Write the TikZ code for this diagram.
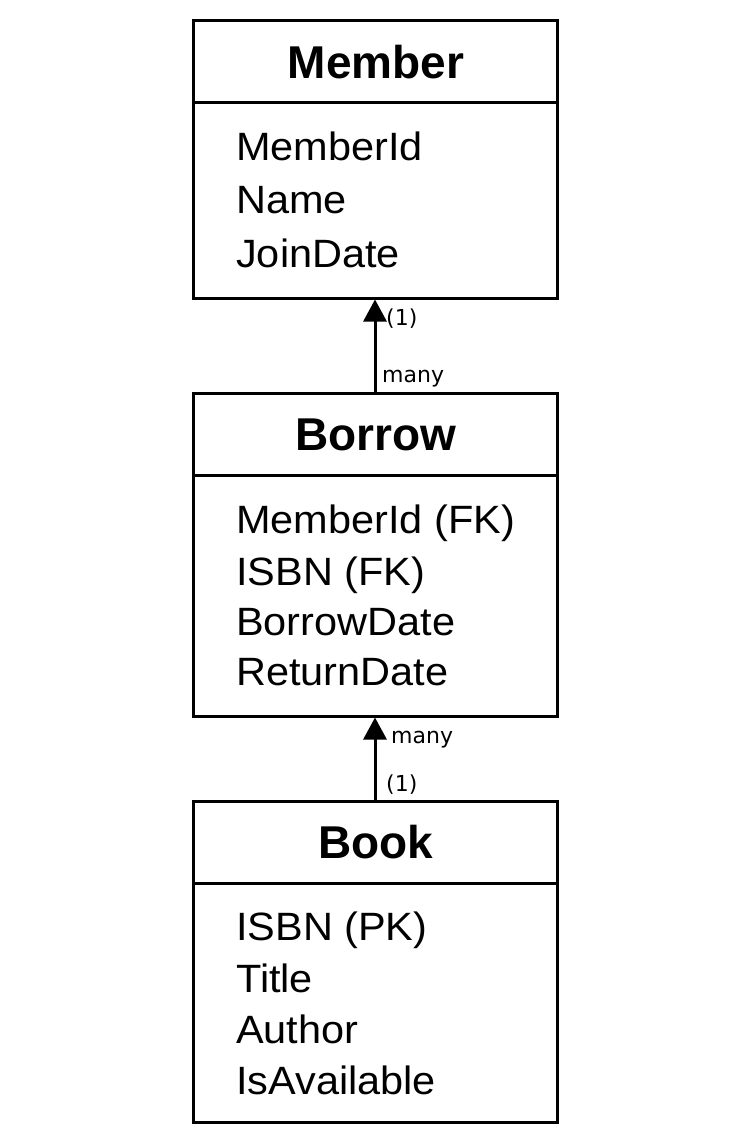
\documentclass[tikz,border=0pt]{standalone}
\usepackage{fontspec}
\setmainfont{Liberation Sans}
\newfontfamily\attrfont[FakeStretch=1.05]{Liberation Sans}
\newfontfamily\lblfont{DejaVu Sans}
\usetikzlibrary{arrows.meta}
\tikzset{
  entbox/.style={draw, line width=3pt, inner sep=0pt, minimum width=364pt},
  divline/.style={line width=3pt},
  hdr/.style={anchor=base, inner sep=0pt, font=\fontsize{46}{54}\selectfont\bfseries},
  attr/.style={anchor=base west, inner sep=0pt, font=\attrfont\fontsize{39.5}{47}\selectfont},
  lbl/.style={inner sep=0pt, font=\lblfont\fontsize{22}{26}\selectfont},
  rel/.style={line width=3pt, -{Triangle[length=22pt,width=23pt]}}
}
\begin{document}
\begin{tikzpicture}[x=1pt,y=-1pt]
\useasboundingbox[fill=white] (0,0) rectangle (750,1125);
% Member
\node[entbox, minimum height=278pt] (member) at (375,159) {};
\draw[divline] (193,102) -- (557,102);
\node[hdr] (memberh) at (376,78) {Member};
\node[attr] (m1) at (236,160) {MemberId};
\node[attr] (m2) at (236,213) {Name};
\node[attr] (m3) at (236,267) {JoinDate};
% Borrow
\node[entbox, minimum height=323pt] (borrow) at (375,554.5) {};
\draw[divline] (193,475) -- (557,475);
\node[hdr] (borrowh) at (376,450) {Borrow};
\node[attr] (b1) at (236,533) {MemberId (FK)};
\node[attr] (b2) at (236,585) {ISBN (FK)};
\node[attr] (b3) at (236,635) {BorrowDate};
\node[attr] (b4) at (236,685) {ReturnDate};
% Book
\node[entbox, minimum height=321pt] (book) at (375,961.5) {};
\draw[divline] (193,883) -- (557,883);
\node[hdr] (bookh) at (376,858) {Book};
\node[attr] (k1) at (236,940) {ISBN (PK)};
\node[attr] (k2) at (236,992) {Title};
\node[attr] (k3) at (236,1043) {Author};
\node[attr] (k4) at (236,1094) {IsAvailable};
% relations
\draw[rel] (borrow.north) -- (member.south);
\draw[rel] (book.north) -- (borrow.south);
\node[lbl, anchor=west] (l1) at (386,319) {(1)};
\node[lbl, anchor=base west] (l2) at (382,382) {many};
\node[lbl, anchor=base west] (l3) at (391,743) {many};
\node[lbl, anchor=west] (l4) at (386,785) {(1)};
\end{tikzpicture}
\end{document}
